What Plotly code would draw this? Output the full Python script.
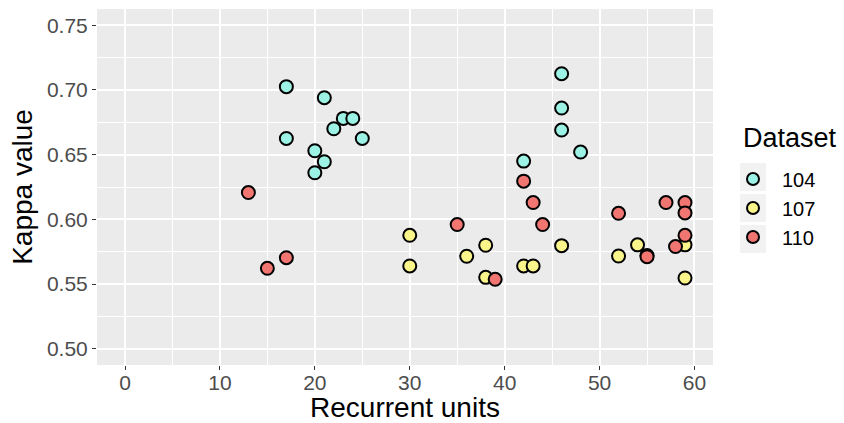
import plotly.graph_objects as go

# Data: Recurrent units vs Kappa value, per dataset
units_104 = [17, 21, 23, 24, 22, 17, 25, 20, 21, 20, 42, 46, 46, 46, 48]
kappa_104 = [0.7025, 0.694, 0.678, 0.678, 0.670, 0.6625, 0.6625, 0.653, 0.6445, 0.636,
             0.645, 0.7125, 0.686, 0.669, 0.652]

units_107 = [30, 30, 36, 38, 38, 42, 43, 46, 52, 54, 55, 59, 59]
kappa_107 = [0.5877, 0.564, 0.5715, 0.580, 0.5552, 0.564, 0.564, 0.5797, 0.5717, 0.5803,
             0.572, 0.5803, 0.5547]

units_110 = [13, 15, 17, 35, 39, 42, 43, 44, 52, 55, 57, 58, 59, 59, 59]
kappa_110 = [0.6207, 0.5622, 0.5704, 0.596, 0.5537, 0.6295, 0.613, 0.596, 0.6047, 0.5712,
             0.613, 0.579, 0.613, 0.605, 0.5877]

series = [
    ("104", units_104, kappa_104, "#9CF2E4"),
    ("107", units_107, kappa_107, "#FAF58A"),
    ("110", units_110, kappa_110, "#F17570"),
]

x_ticks = [0, 10, 20, 30, 40, 50, 60]
y_ticks = [0.50, 0.55, 0.60, 0.65, 0.70, 0.75]
y_tick_labels = ["0.50", "0.55", "0.60", "0.65", "0.70", "0.75"]
legend_title = "Dataset"

W, H = 844, 423
ML, MR, MT, MB = 97, 131, 9, 58

fig = go.Figure()
for name, xs, ys, col in series:
    fig.add_trace(go.Scatter(
        x=xs, y=ys, mode="markers", name=name,
        marker=dict(size=13, color=col, line=dict(color="black", width=2)),
    ))

font_family = "Liberation Sans, Arial, sans-serif"

plot_h = H - MT - MB
plot_w = W - ML - MR
def px_to_paper_x(px):
    return (px - ML) / plot_w
def px_to_paper_y(py):
    return (H - MB - py) / plot_h

# grey legend key backgrounds (ggplot style)
item_centers = [177, 208, 239]
shapes = []
for c in item_centers:
    shapes.append(dict(
        type="rect", xref="paper", yref="paper", layer="below",
        x0=px_to_paper_x(740), x1=px_to_paper_x(766),
        y0=px_to_paper_y(c + 14), y1=px_to_paper_y(c - 14),
        fillcolor="#F2F2F2", line=dict(width=0),
    ))

fig.add_annotation(
    text=legend_title, xref="paper", yref="paper",
    x=px_to_paper_x(741), xanchor="left",
    y=px_to_paper_y(138), yanchor="middle",
    showarrow=False, font=dict(size=27, color="black", family=font_family),
)

fig.update_layout(
    width=W, height=H,
    margin=dict(l=ML, r=MR, t=MT, b=MB),
    paper_bgcolor="white",
    plot_bgcolor="#EBEBEB",
    font=dict(family=font_family, color="black"),
    showlegend=True,
    shapes=shapes,
    legend=dict(
        font=dict(size=20, color="black"),
        x=px_to_paper_x(724), xanchor="left",
        y=px_to_paper_y(208), yanchor="middle",
        bgcolor="rgba(0,0,0,0)",
        itemsizing="constant",
        itemwidth=48,
        tracegroupgap=0,
    ),
    xaxis=dict(
        range=[-2.95, 61.95],
        tickvals=x_ticks,
        ticktext=[str(v) for v in x_ticks],
        tickfont=dict(size=21, color="#4D4D4D"),
        ticks="outside", ticklen=4, tickcolor="#333333", tickwidth=1,
        ticklabelstandoff=-5,
        showgrid=True, gridcolor="white", gridwidth=1.6,
        minor=dict(dtick=5, tick0=5, showgrid=True, gridcolor="white", gridwidth=0.7, ticks=""),
        zeroline=False, showline=False, automargin=False,
        title=dict(text="Recurrent units", font=dict(size=28, color="black"), standoff=7),
    ),
    yaxis=dict(
        range=[0.4875, 0.7625],
        tickvals=y_ticks,
        ticktext=y_tick_labels,
        tickfont=dict(size=21, color="#4D4D4D"),
        ticks="outside", ticklen=4, tickcolor="#333333", tickwidth=1,
        showgrid=True, gridcolor="white", gridwidth=1.6,
        minor=dict(dtick=0.05, tick0=0.525, showgrid=True, gridcolor="white", gridwidth=0.7, ticks=""),
        zeroline=False, showline=False, automargin=False,
        title=dict(text="Kappa value", font=dict(size=28, color="black"), standoff=6),
    ),
)

fig.write_html("out.html")
